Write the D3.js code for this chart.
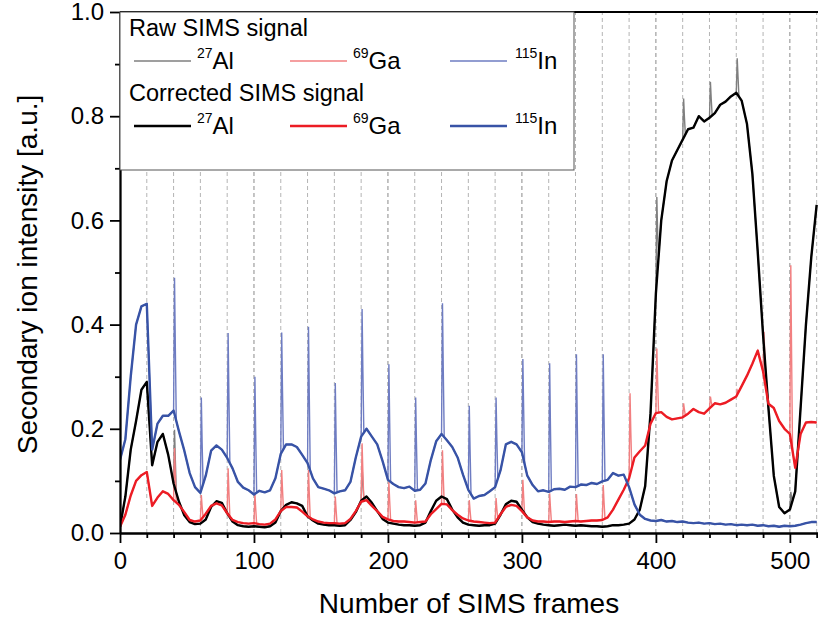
<!DOCTYPE html>
<html>
<head>
<meta charset="utf-8">
<script src="https://cdn.jsdelivr.net/npm/d3@7"></script>
<style>
  body { margin: 0; background: #fff; }
  svg { display: block; font-family: "Liberation Sans", Arial, sans-serif; }
</style>
</head>
<body>
<svg width="818" height="623"></svg>
<script>
// sample frames of the corrected traces (every 4th frame)
const frames = d3.range(0, 521, 4);

const alCorrected = [
  0.012, 0.07, 0.16, 0.215, 0.275, 0.29, 0.13, 0.175, 0.19, 0.15,
  0.095, 0.06, 0.034, 0.021, 0.017, 0.018, 0.026, 0.05, 0.061, 0.058,
  0.038, 0.022, 0.015, 0.013, 0.012, 0.013, 0.012, 0.011, 0.013, 0.02,
  0.042, 0.054, 0.059, 0.057, 0.052, 0.032, 0.024, 0.018, 0.016, 0.015,
  0.015, 0.014, 0.015, 0.025, 0.04, 0.062, 0.07, 0.058, 0.042, 0.027,
  0.02, 0.018, 0.016, 0.015, 0.015, 0.014, 0.015, 0.02, 0.042, 0.062,
  0.07, 0.065, 0.045, 0.03, 0.02, 0.016, 0.015, 0.014, 0.015, 0.015,
  0.018, 0.035, 0.055, 0.062, 0.06, 0.045, 0.03, 0.021, 0.018, 0.016,
  0.015, 0.014, 0.015, 0.016, 0.015, 0.014, 0.015, 0.014, 0.013, 0.013,
  0.012, 0.013, 0.015, 0.015, 0.016, 0.018, 0.026, 0.045, 0.09, 0.23,
  0.46, 0.6, 0.675, 0.715, 0.735, 0.755, 0.775, 0.778, 0.8, 0.79,
  0.797, 0.806, 0.822, 0.828, 0.838, 0.845, 0.83, 0.785, 0.69, 0.54,
  0.38, 0.24, 0.11, 0.05, 0.038, 0.045, 0.08, 0.24, 0.40, 0.53,
  0.63
];

const gaCorrected = [
  0.012, 0.035, 0.072, 0.1, 0.111, 0.117, 0.052, 0.068, 0.08, 0.075,
  0.063, 0.054, 0.04, 0.025, 0.022, 0.024, 0.037, 0.052, 0.057, 0.053,
  0.038, 0.025, 0.021, 0.019, 0.018, 0.019, 0.017, 0.016, 0.018, 0.026,
  0.042, 0.05, 0.05, 0.049, 0.041, 0.032, 0.026, 0.022, 0.02, 0.019,
  0.019, 0.018, 0.019, 0.027, 0.042, 0.06, 0.063, 0.052, 0.042, 0.031,
  0.026, 0.023, 0.022, 0.022, 0.021, 0.02, 0.021, 0.022, 0.036, 0.046,
  0.056, 0.055, 0.044, 0.035, 0.028, 0.024, 0.022, 0.021, 0.02, 0.019,
  0.02, 0.036, 0.05, 0.054, 0.052, 0.042, 0.03, 0.024, 0.022, 0.022,
  0.021, 0.022, 0.022, 0.021, 0.022, 0.023, 0.022, 0.023, 0.024, 0.024,
  0.025, 0.03, 0.045, 0.064, 0.083, 0.105, 0.145, 0.157, 0.168, 0.21,
  0.23, 0.232, 0.223, 0.218, 0.22, 0.222, 0.229, 0.238, 0.232, 0.229,
  0.239, 0.249, 0.247, 0.25, 0.256, 0.262, 0.282, 0.302, 0.325, 0.35,
  0.31, 0.248, 0.24, 0.215, 0.2, 0.19, 0.125, 0.19, 0.212, 0.213,
  0.212
];

const inCorrected = [
  0.14, 0.18, 0.30, 0.40, 0.435, 0.44, 0.16, 0.21, 0.225, 0.225,
  0.235, 0.195, 0.158, 0.115, 0.088, 0.077, 0.11, 0.158, 0.168, 0.16,
  0.144, 0.124, 0.098, 0.087, 0.082, 0.074, 0.081, 0.078, 0.082, 0.105,
  0.152, 0.17, 0.17, 0.165, 0.15, 0.134, 0.105, 0.088, 0.085, 0.082,
  0.076, 0.08, 0.082, 0.098, 0.145, 0.185, 0.2, 0.185, 0.17, 0.138,
  0.102, 0.094, 0.088, 0.086, 0.089, 0.081, 0.083, 0.095, 0.14, 0.176,
  0.19, 0.178, 0.165, 0.145, 0.112, 0.083, 0.066, 0.071, 0.073, 0.08,
  0.088, 0.12, 0.17, 0.175, 0.17, 0.155, 0.11, 0.092, 0.08, 0.082,
  0.079, 0.084, 0.085, 0.083, 0.089, 0.088, 0.093, 0.092, 0.096, 0.094,
  0.099, 0.102, 0.115, 0.11, 0.112, 0.088, 0.055, 0.035, 0.027, 0.024,
  0.023, 0.025, 0.022, 0.023, 0.021, 0.022, 0.02, 0.019, 0.02, 0.018,
  0.019, 0.017, 0.018, 0.016, 0.017, 0.015, 0.016, 0.015, 0.016, 0.014,
  0.015, 0.013, 0.014, 0.012, 0.014, 0.013, 0.014, 0.016, 0.019, 0.021,
  0.021
];

// raw signal: same as corrected except the spikes at the frame boundaries
const alSpikeFrames = [40, 180, 400, 420, 440, 460, 500];
const alSpikeValues = [0.198, 0.127, 0.645, 0.834, 0.866, 0.911, 0.079];

const gaSpikeFrames = [40, 60, 80, 100, 120, 140, 160, 180, 200, 220, 240, 260,
                       280, 300, 320, 340, 360, 380, 400, 420, 440, 460, 480, 500];
const gaSpikeValues = [0.163, 0.073, 0.124, 0.076, 0.121, 0.121, 0.07, 0.172, 0.098, 0.063, 0.159, 0.063,
                       0.067, 0.102, 0.076, 0.075, 0.092, 0.268, 0.354, 0.249, 0.262, 0.274, 0.386, 0.514];

const inSpikeFrames = [40, 60, 80, 100, 120, 140, 160, 180, 200, 220, 240, 260, 280, 300, 320, 340, 360];
const inSpikeValues = [0.49, 0.26, 0.384, 0.30, 0.385, 0.396, 0.288, 0.43, 0.324, 0.26, 0.441, 0.244,
                       0.26, 0.334, 0.326, 0.343, 0.343];

const gridFrames = d3.range(20, 521, 20);
const xMajor = [0, 100, 200, 300, 400, 500];
const yMajor = [0, 0.2, 0.4, 0.6, 0.8, 1.0];

const svg = d3.select("svg"),
      width = +svg.attr("width"),
      height = +svg.attr("height");

const margin = {left: 120, top: 12, right: 0, bottom: 90};

const x = d3.scaleLinear().domain([0, 521]).range([margin.left, width - margin.right]);
const y = d3.scaleLinear().domain([0, 1]).range([height - margin.bottom, margin.top]);

svg.append("defs").append("clipPath").attr("id", "plot")
  .append("rect")
    .attr("x", x(0)).attr("y", y(1))
    .attr("width", x(521) - x(0)).attr("height", y(0) - y(1));

// dashed frame boundaries
svg.append("g")
  .selectAll("line")
  .data(gridFrames)
  .join("line")
    .attr("x1", d => x(d)).attr("x2", d => x(d))
    .attr("y1", y(0)).attr("y2", y(1))
    .attr("stroke", d => d % 100 === 0 ? "#8a8a8a" : "#b4b4b4")
    .attr("stroke-width", 1)
    .attr("stroke-dasharray", "4,3");

function baseAt(series, f) {
  const i = Math.min(Math.floor(f / 4), frames.length - 2);
  const t = (f - frames[i]) / (frames[i + 1] - frames[i]);
  return series[i] + (series[i + 1] - series[i]) * t;
}

const spikeShape = [[0, 0], [0.7, 1], [1.3, 0.5], [2.0, 0]];

function rawPoints(series, sFrames, sValues) {
  let pts = frames.map((f, i) => [f, series[i]]);
  sFrames.forEach((f, j) => {
    pts = pts.filter(p => p[0] < f || p[0] > f + 2.0);
    spikeShape.forEach(([dx, k]) => {
      const b = baseAt(series, f + dx);
      pts.push([f + dx, b + (sValues[j] - b) * k]);
    });
  });
  return pts.sort((a, b) => a[0] - b[0]);
}

const line = d3.line().x(d => x(d[0])).y(d => y(d[1]));

const plot = svg.append("g").attr("clip-path", "url(#plot)");

const rawSeries = [
  {pts: rawPoints(alCorrected, alSpikeFrames, alSpikeValues), color: "#7f7f7f"},
  {pts: rawPoints(gaCorrected, gaSpikeFrames, gaSpikeValues), color: "#f27f80"},
  {pts: rawPoints(inCorrected, inSpikeFrames, inSpikeValues), color: "#6e7cc2"}
];
const corrSeries = [
  {pts: frames.map((f, i) => [f, alCorrected[i]]), color: "#000000"},
  {pts: frames.map((f, i) => [f, gaCorrected[i]]), color: "#ec1c24"},
  {pts: frames.map((f, i) => [f, inCorrected[i]]), color: "#3853a6"}
];

plot.selectAll("path.raw")
  .data(rawSeries)
  .join("path")
    .attr("class", "raw")
    .attr("fill", "none")
    .attr("stroke", d => d.color)
    .attr("stroke-width", 1.4)
    .attr("d", d => line(d.pts));

plot.selectAll("path.corr")
  .data(corrSeries)
  .join("path")
    .attr("class", "corr")
    .attr("fill", "none")
    .attr("stroke", d => d.color)
    .attr("stroke-width", 2.4)
    .attr("stroke-linejoin", "round")
    .attr("d", d => line(d.pts));

// axes
const xAxis = svg.append("g").attr("transform", `translate(0,${y(0)})`);
xAxis.call(d3.axisBottom(x).tickValues(gridFrames.filter(d => d % 100 !== 0)).tickSize(5).tickFormat("").tickSizeOuter(0));
xAxis.append("g").call(d3.axisBottom(x).tickValues(xMajor).tickSize(10).tickSizeOuter(0).tickPadding(9));

const yAxis = svg.append("g").attr("transform", `translate(${x(0)},0)`);
yAxis.call(d3.axisLeft(y).tickValues([0.1, 0.3, 0.5, 0.7, 0.9]).tickSize(5).tickFormat("").tickSizeOuter(0));
yAxis.append("g").call(d3.axisLeft(y).tickValues(yMajor).tickSize(10).tickSizeOuter(0).tickPadding(6).tickFormat(d3.format(".1f")));

svg.selectAll(".domain, .tick line").attr("stroke", "#000").attr("stroke-width", 1.8);
svg.selectAll(".tick text").attr("fill", "#000").style("font-size", "24px").style("font-family", "Liberation Sans, Arial, sans-serif");

svg.append("line")
    .attr("x1", x(0)).attr("x2", width)
    .attr("y1", y(1)).attr("y2", y(1))
    .attr("stroke", "#000").attr("stroke-width", 1.8);

// axis titles
svg.append("text")
    .attr("x", (x(0) + width) / 2).attr("y", 613)
    .attr("text-anchor", "middle")
    .style("font-size", "28px")
    .text("Number of SIMS frames");

svg.append("text")
    .attr("transform", `translate(37,${(y(0) + y(1)) / 2 + 2}) rotate(-90)`)
    .attr("text-anchor", "middle")
    .style("font-size", "28px")
    .text("Secondary ion intensity [a.u.]");

// legend
const legend = svg.append("g");
legend.append("rect")
    .attr("x", x(0)).attr("y", y(1))
    .attr("width", 454).attr("height", 158)
    .attr("fill", "#fff").attr("stroke", "#555").attr("stroke-width", 1);

const heads = [{text: "Raw SIMS signal", y: 36}, {text: "Corrected SIMS signal", y: 101}];
legend.selectAll("text.head")
  .data(heads)
  .join("text")
    .attr("class", "head")
    .attr("x", 129).attr("y", d => d.y)
    .style("font-size", "23.5px")
    .text(d => d.text);

const isotopes = [
  {mass: "27", el: "Al", x0: 134, tx: 197},
  {mass: "69", el: "Ga", x0: 290, tx: 353},
  {mass: "115", el: "In", x0: 450, tx: 515}
];
const rows = [
  {y: 61, series: rawSeries, w: 1.4},
  {y: 126, series: corrSeries, w: 2.6}
];

rows.forEach(r => {
  const g = legend.append("g");
  g.selectAll("line")
    .data(isotopes)
    .join("line")
      .attr("x1", d => d.x0).attr("x2", d => d.x0 + 57)
      .attr("y1", r.y).attr("y2", r.y)
      .attr("stroke", (d, i) => r.series[i].color)
      .attr("stroke-width", r.w);
  const t = g.selectAll("text")
    .data(isotopes)
    .join("text")
      .attr("x", d => d.tx).attr("y", r.y + 8);
  t.append("tspan")
      .attr("dy", -11)
      .style("font-size", "14px")
      .text(d => d.mass);
  t.append("tspan")
      .attr("dy", 11)
      .style("font-size", "24px")
      .text(d => d.el);
});
</script>
</body>
</html>
